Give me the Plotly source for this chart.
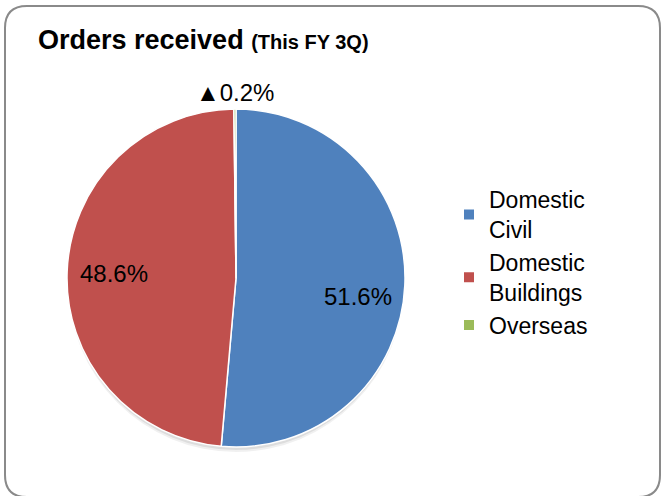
import math
import plotly.graph_objects as go

W, H = 667, 496

categories = ["Domestic<br>Civil", "Domestic<br>Buildings", "Overseas"]
shares = [51.6, 48.6, -0.2]          # % of orders received (Overseas negative)
label_text = ["51.6%", "48.6%", "▲0.2%"]
colors = ["#4F81BD", "#C0504D", "#9BBB59"]

pie_values = [abs(v) for v in shares]

FONT = "Liberation Sans, Arial, sans-serif"

# pie geometry (pixels)
PX0, PX1, PY0, PY1 = 66, 406, 109, 447
cx, cy = (PX0 + PX1) / 2, (PY0 + PY1) / 2
R = min(PX1 - PX0, PY1 - PY0) / 2


def fx(x):
    return x / W


def fy(y):
    return 1 - y / H


fig = go.Figure(go.Pie(
    labels=categories,
    values=pie_values,
    textinfo="none",
    sort=False,
    direction="clockwise",
    rotation=0,
    marker=dict(colors=colors, line=dict(color="white", width=1.5)),
    domain=dict(x=[fx(PX0), fx(PX1)], y=[fy(PY1), fy(PY0)]),
    showlegend=True,
    hoverinfo="label+text",
    text=label_text,
))

# data labels placed along each slice's mid-angle (Excel "best fit" style nudges)
label_nudge_y = {0: -13, 1: 0}
annotations = []
total = sum(pie_values)
start = 0.0
for i, (val, txt) in enumerate(zip(pie_values, label_text)):
    ang = (start + val / 2) / total * 2 * math.pi
    start += val
    if val / total > 0.05:
        rr = 0.72 * R
        dx, dy = rr * math.sin(ang), -rr * math.cos(ang)
        annotations.append(dict(
            text=txt, x=fx(cx + dx), y=fy(cy + dy), xref="paper", yref="paper",
            xanchor="center", yanchor="middle", showarrow=False,
            yshift=label_nudge_y.get(i, 0),
            font=dict(family=FONT, size=24, color="black")))
    else:
        rr = R + 1
        dx, dy = rr * math.sin(ang), -rr * math.cos(ang)
        annotations.append(dict(
            text=txt, x=fx(cx + dx), y=fy(cy + dy), xref="paper", yref="paper",
            xanchor="center", yanchor="bottom", showarrow=False,
            font=dict(family=FONT, size=24, color="black")))

annotations.append(dict(
    text="<b>Orders received</b> <b><span style='font-size:20px'>(This FY 3Q)</span></b>",
    x=fx(36), y=fy(40), xref="paper", yref="paper",
    xanchor="left", yanchor="middle", showarrow=False,
    font=dict(family=FONT, size=27, color="black"),
))

# rounded border (bottom edge runs just off the canvas)
x0, x1, y0, y1, r = 5, 660, 6, 497, 22
path = (
    f"M {fx(x0 + r)} {fy(y0)} L {fx(x1 - r)} {fy(y0)} "
    f"Q {fx(x1)} {fy(y0)} {fx(x1)} {fy(y0 + r)} "
    f"L {fx(x1)} {fy(y1 - r)} Q {fx(x1)} {fy(y1)} {fx(x1 - r)} {fy(y1)} "
    f"L {fx(x0 + r)} {fy(y1)} Q {fx(x0)} {fy(y1)} {fx(x0)} {fy(y1 - r)} "
    f"L {fx(x0)} {fy(y0 + r)} Q {fx(x0)} {fy(y0)} {fx(x0 + r)} {fy(y0)} Z"
)

shapes = [dict(type="path", path=path, xref="paper", yref="paper",
               line=dict(color="#8A8A8A", width=2))]
# soft drop shadow under the pie
for off, alpha in [(5, 0.06), (3, 0.08)]:
    shapes.append(dict(type="circle", xref="paper", yref="paper", layer="below",
                       x0=fx(cx - R + 1), x1=fx(cx + R - 1),
                       y0=fy(cy + R + off), y1=fy(cy - R + off),
                       fillcolor=f"rgba(0,0,0,{alpha})", line=dict(width=0)))

fig.update_layout(
    width=W, height=H,
    margin=dict(l=0, r=0, t=0, b=0),
    paper_bgcolor="white",
    plot_bgcolor="white",
    font=dict(family=FONT, color="black"),
    shapes=shapes,
    annotations=annotations,
    legend=dict(
        x=fx(449), y=fy(178), xanchor="left", yanchor="top",
        font=dict(family=FONT, size=23, color="black"),
        itemsizing="constant", bgcolor="rgba(0,0,0,0)",
    ),
)

fig.write_html("out.html",
               config={"displayModeBar": False},
               post_script="document.body.style.margin='0';document.body.style.overflow='hidden';")
